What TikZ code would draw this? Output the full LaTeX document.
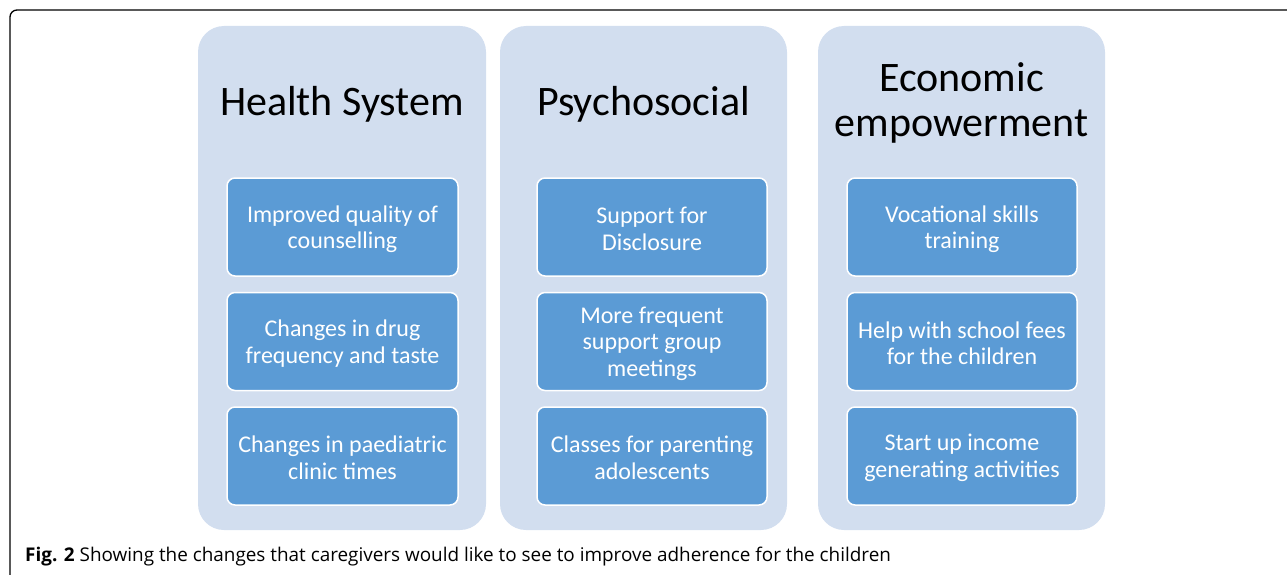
\documentclass[tikz,border=0pt]{standalone}
\usepackage{fontspec}
\setmainfont{Carlito}
\newfontfamily\capfont{Open Sans}
\definecolor{outerfill}{HTML}{D2DEEF}
\definecolor{innerfill}{HTML}{5B9BD5}
\begin{document}
\begin{tikzpicture}[x=1pt,y=-1pt,
  colbox/.style={fill=outerfill,rounded corners=26pt,minimum width=288pt,minimum height=504pt,inner sep=0pt,draw=none},
  itembox/.style={fill=innerfill,draw=white,line width=1.5pt,rounded corners=8pt,minimum width=231pt,minimum height=98pt,inner sep=0pt},
  itemtext/.style={text=white,align=center,font=\fontsize{24}{26.5}\selectfont},
  headtext/.style={text=black,align=center,font=\fontsize{42}{45.5}\selectfont}]
\useasboundingbox (0,0) rectangle (1287,575);
\draw[line width=1.3pt,rounded corners=7pt] (10,575) -- (10,10) -- (1287,10);
% columns
\node[colbox] (c1) at (342,278) {};
\node[colbox,minimum width=287pt] (c2) at (643.5,278) {};
\node[colbox,minimum width=287pt] (c3) at (961.5,278) {};
% headings
\node[headtext] (h1) at (342,104) {Health System};
\node[headtext] (h2) at (643.5,104) {Psychosocial};
\node[headtext] (h3) at (961.5,103) {Economic\\empowerment};
% column 1 items
\node[itembox] (a1) at (342.5,227) {};
\node[itemtext] (ta1) at (342.5,229) {Improved quality of\\counselling};
\node[itembox] (a2) at (342.5,341.5) {};
\node[itemtext] (ta2) at (342.5,343.5) {Changes in drug\\frequency and taste};
\node[itembox] (a3) at (342.5,456) {};
\node[itemtext] (ta3) at (342.5,458) {Changes in paediatric\\clinic times};
% column 2 items
\node[itembox,minimum width=230pt] (b1) at (652,227) {};
\node[itemtext] (tb1) at (652,229) {Support for\\Disclosure};
\node[itembox,minimum width=230pt] (b2) at (652,341.5) {};
\node[itemtext] (tb2) at (652,343.5) {More frequent\\support group\\meetings};
\node[itembox,minimum width=230pt] (b3) at (652,456) {};
\node[itemtext] (tb3) at (652,458) {Classes for parenting\\adolescents};
% column 3 items
\node[itembox,minimum width=230pt] (d1) at (962,227) {};
\node[itemtext] (td1) at (962,229) {Vocational skills\\training};
\node[itembox,minimum width=230pt] (d2) at (962,341.5) {};
\node[itemtext] (td2) at (962,343.5) {Help with school fees\\for the children};
\node[itembox,minimum width=230pt] (d3) at (962,456) {};
\node[itemtext] (td3) at (962,458) {Start up income\\generating activities};
% caption
\node[anchor=west,inner sep=0pt,font=\capfont\fontsize{18.9}{22}\selectfont] (cap) at (25,557) {\textbf{Fig. 2} Showing the changes that caregivers would like to see to improve adherence for the children};
\end{tikzpicture}
\end{document}
